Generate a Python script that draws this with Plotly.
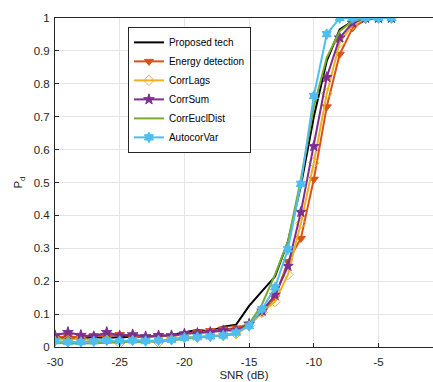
import plotly.graph_objects as go

snr = list(range(-30, -3))

proposed = [0.028, 0.027, 0.026, 0.030, 0.028, 0.030, 0.030, 0.032, 0.033, 0.036, 0.045, 0.052, 0.048,
            0.062, 0.068, 0.125, 0.170, 0.214, 0.320, 0.490, 0.700, 0.870, 0.965, 0.990, 1.0, 1.0, 1.0]
energy = [0.030, 0.032, 0.030, 0.035, 0.033, 0.038, 0.033, 0.030, 0.035, 0.032, 0.040, 0.045, 0.050,
          0.055, 0.058, 0.070, 0.105, 0.150, 0.260, 0.330, 0.510, 0.730, 0.890, 0.970, 0.995, 1.0, 1.0]
corrlags = [0.025, 0.022, 0.025, 0.020, 0.022, 0.012, 0.022, 0.020, 0.014, 0.025, 0.030, 0.030, 0.035,
            0.035, 0.040, 0.065, 0.105, 0.138, 0.220, 0.376, 0.560, 0.770, 0.925, 0.980, 1.0, 1.0, 1.0]
corrsum = [0.035, 0.045, 0.036, 0.032, 0.045, 0.034, 0.038, 0.032, 0.035, 0.035, 0.040, 0.042, 0.045,
           0.050, 0.050, 0.070, 0.110, 0.158, 0.246, 0.410, 0.610, 0.820, 0.940, 0.985, 1.0, 1.0, 1.0]
correucl = [0.012, 0.010, 0.010, 0.012, 0.012, 0.015, 0.015, 0.015, 0.018, 0.020, 0.025, 0.028, 0.030,
            0.035, 0.040, 0.070, 0.130, 0.220, 0.320, 0.510, 0.730, 0.880, 0.960, 0.990, 1.0, 1.0, 1.0]
autocorvar = [0.018, 0.015, 0.015, 0.017, 0.020, 0.018, 0.020, 0.018, 0.020, 0.022, 0.028, 0.030, 0.032,
              0.035, 0.044, 0.064, 0.115, 0.181, 0.297, 0.496, 0.763, 0.951, 1.0, 1.0, 1.0, 1.0, 1.0]

series = [
    ("Proposed tech", proposed, "#000000", None),
    ("Energy detection", energy, "#D95319", "triangle-down"),
    ("CorrLags", corrlags, "#EDB120", "diamond-open"),
    ("CorrSum", corrsum, "#7E2F8E", "star"),
    ("CorrEuclDist", correucl, "#77AC30", None),
    ("AutocorVar", autocorvar, "#4DBEEE", "hexagram"),
]

x_ticks = [-30, -25, -20, -15, -10, -5, 0]
y_ticks = [0, 0.1, 0.2, 0.3, 0.4, 0.5, 0.6, 0.7, 0.8, 0.9, 1]

fig = go.Figure()
for name, vals, color, sym in series:
    if sym is None:
        fig.add_trace(go.Scatter(x=snr, y=vals, name=name, mode="lines",
                                 line=dict(color=color, width=2)))
    else:
        fig.add_trace(go.Scatter(x=snr, y=vals, name=name, mode="lines+markers",
                                 line=dict(color=color, width=2),
                                 marker=dict(symbol=sym, size=8, color=color,
                                             line=dict(color=color, width=1))))

font = dict(family="Liberation Sans, Arial, sans-serif", size=11.5, color="#262626")
fig.update_layout(
    width=433, height=382,
    margin=dict(l=55, r=0, t=18, b=35),
    paper_bgcolor="white", plot_bgcolor="white",
    font=font,
    showlegend=True,
    legend=dict(x=0.193, y=0.973, xanchor="left", yanchor="top",
                bgcolor="white", bordercolor="#262626", borderwidth=1,
                font=dict(family="Liberation Sans, Arial, sans-serif", size=10, color="#000000"),
                tracegroupgap=0, itemwidth=30),
)
fig.update_xaxes(range=[-30, -0.79], tickvals=x_ticks, ticktext=[str(v) for v in x_ticks],
                 showgrid=True, gridcolor="#e5e5e5", gridwidth=1,
                 showline=True, linecolor="#262626", linewidth=1, mirror=True,
                 ticks="inside", ticklen=4, tickcolor="#262626", zeroline=False,
                 ticklabelstandoff=4,
                 title=dict(text="SNR (dB)", standoff=4, font=dict(size=11.5)))
fig.update_yaxes(range=[0, 1], tickvals=y_ticks, ticktext=[("%g" % v) for v in y_ticks],
                 showgrid=True, gridcolor="#e5e5e5", gridwidth=1,
                 showline=True, linecolor="#262626", linewidth=1, mirror=False,
                 ticks="inside", ticklen=4, tickcolor="#262626", zeroline=False,
                 ticklabelstandoff=2,
                 title=dict(text="P<sub>d</sub>", standoff=8, font=dict(size=11.5)))

fig.write_html("out.html")
